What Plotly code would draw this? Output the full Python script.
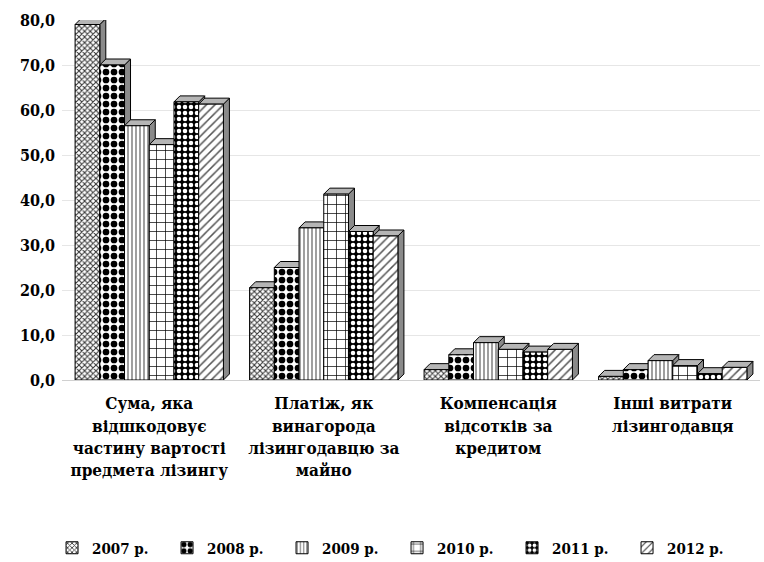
import plotly.graph_objects as go

categories = [
    "Сума, яка<br>відшкодовує<br>частину вартості<br>предмета лізингу",
    "Платіж, як<br>винагорода<br>лізингодавцю за<br>майно",
    "Компенсація<br>відсотків за<br>кредитом",
    "Інші витрати<br>лізингодавця",
]
years = ["2007 р.", "2008 р.", "2009 р.", "2010 р.", "2011 р.", "2012 р."]

v2007 = [79.0, 20.5, 2.3, 0.8]
v2008 = [70.0, 25.0, 5.6, 2.3]
v2009 = [56.5, 33.8, 8.3, 4.3]
v2010 = [52.3, 41.3, 6.8, 3.2]
v2011 = [61.8, 33.0, 6.2, 1.4]
v2012 = [61.3, 32.0, 6.8, 2.8]
series = [v2007, v2008, v2009, v2010, v2011, v2012]

# fill pattern for each year: (shape, background, foreground, size, solidity)
patterns = [
    ("x", "white", "#333333", 4, 0.45),
    (".", "white", "black", 8, 0.55),
    ("|", "white", "#777777", 4, 0.35),
    ("+", "white", "black", 9, 0.15),
    (".", "black", "white", 6, 0.45),
    ("/", "white", "#555555", 6, 0.25),
]

FONT = "DejaVu Serif Condensed, DejaVu Serif, serif"

W, H = 764, 562
M_L, M_R, M_T, M_B = 62, 4, 20, 182
Y_MAX = 80
BARGAP = 0.15
plot_w = W - M_L - M_R
plot_h = H - M_T - M_B

fig = go.Figure()
for name, vals, (shape, bg, fg, size, sol) in zip(years, series, patterns):
    fig.add_trace(go.Bar(
        x=list(range(len(categories))),
        y=vals,
        name=name,
        marker=dict(
            color=bg,
            line=dict(color="black", width=1),
            pattern=dict(shape=shape, bgcolor=bg, fgcolor=fg, size=size,
                         solidity=sol, fillmode="replace"),
        ),
    ))

# extruded side and top faces, placed behind the bars
depth_px = 6
dx = depth_px / (plot_w / len(categories))
dy = depth_px / (plot_h / Y_MAX)
bar_w = (1 - BARGAP) / len(series)
for j, vals in enumerate(series):
    for i, v in enumerate(vals):
        x0 = i - (1 - BARGAP) / 2 + j * bar_w
        x1 = x0 + bar_w
        side = (f"M {x1} 0 L {x1 + dx} {dy} L {x1 + dx} {v + dy} "
                f"L {x1} {v} Z")
        top = (f"M {x0} {v} L {x0 + dx} {v + dy} L {x1 + dx} {v + dy} "
               f"L {x1} {v} Z")
        fig.add_shape(type="path", path=side, xref="x", yref="y",
                      fillcolor="#8a8a8a", line=dict(color="black", width=1),
                      layer="between")
        fig.add_shape(type="path", path=top, xref="x", yref="y",
                      fillcolor="#b5b5b5", line=dict(color="black", width=1),
                      layer="between")

fig.update_layout(
    width=W,
    height=H,
    paper_bgcolor="white",
    plot_bgcolor="white",
    separators=", ",
    barmode="group",
    bargap=BARGAP,
    bargroupgap=0.0,
    margin=dict(l=M_L, r=M_R, t=M_T, b=M_B, autoexpand=False),
    font=dict(family=FONT, size=15, color="black"),
    showlegend=True,
    legend=dict(
        orientation="h",
        x=0.48, xanchor="center",
        y=(380 - 548) / plot_h, yanchor="middle",
        entrywidth=70, entrywidthmode="pixels",
        font=dict(family=FONT, size=15, color="black", weight="bold"),
        itemwidth=30,
        tracegroupgap=0,
    ),
)

fig.update_yaxes(
    range=[0, Y_MAX],
    dtick=10,
    tickformat=".1f",
    showgrid=True,
    gridcolor="#e6e6e6",
    gridwidth=1,
    zeroline=False,
    showline=False,
    ticks="",
    ticklabelstandoff=6,
    tickfont=dict(family=FONT, size=16, color="black", weight="bold"),
)

fig.update_xaxes(
    range=[-0.5, len(categories) - 0.5],
    tickvals=list(range(len(categories))),
    ticktext=categories,
    showline=True,
    linecolor="#d0d0d0",
    linewidth=1,
    ticks="",
    tickangle=0,
    ticklabelstandoff=8,
    tickfont=dict(family=FONT, size=17, color="black", weight="bold"),
)

fig.write_html("out.html")
